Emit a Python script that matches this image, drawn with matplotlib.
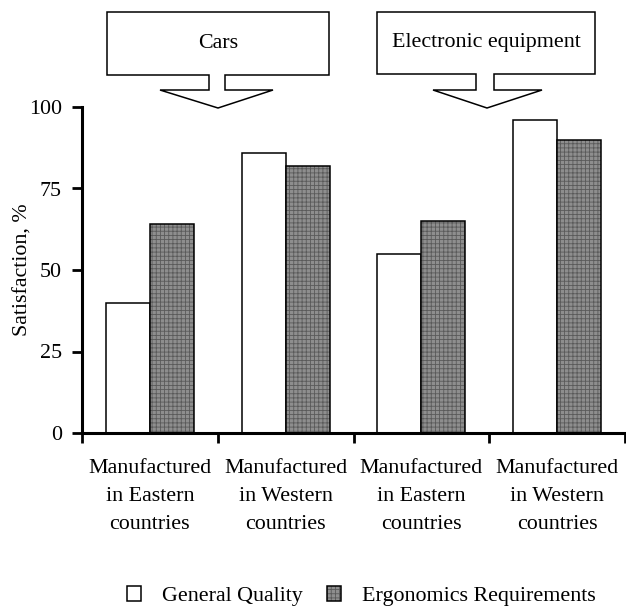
import matplotlib
matplotlib.use("Agg")
import matplotlib.pyplot as plt
from matplotlib.patches import Polygon, Rectangle
from matplotlib.legend_handler import HandlerTuple
import numpy as np

plt.rcParams['font.family'] = ['Liberation Serif', 'DejaVu Serif']
plt.rcParams['hatch.linewidth'] = 0.6

categories = ["Manufactured\nin Eastern\ncountries", "Manufactured\nin Western\ncountries",
              "Manufactured\nin Eastern\ncountries", "Manufactured\nin Western\ncountries"]
general_quality = [40, 86, 55, 96]
ergonomics = [64, 82, 65, 90]
group_titles = ["Cars", "Electronic equipment"]
series_names = ["General Quality", "Ergonomics Requirements"]
yticks = [0, 25, 50, 75, 100]

W, H = 626, 608
fig = plt.figure(figsize=(W / 100, H / 100), dpi=100)
ax = fig.add_axes([82 / W, 1 - 433 / H, (625 - 82) / W, (433 - 107) / H])

x = np.arange(len(categories))
bw = 0.324
fs = 15.8
gray_face = '#8e8e8e'
gray_hatch = '#5a5a5a'

ax.bar(x - bw / 2, general_quality, bw, color='white', edgecolor='black', linewidth=1.1,
       zorder=2)
ax.bar(x + bw / 2, ergonomics, bw, color=gray_face, edgecolor=gray_hatch, linewidth=0,
       hatch='++++', zorder=2)
ax.bar(x + bw / 2, ergonomics, bw, fill=False, edgecolor='black', linewidth=1.1, zorder=3)

ax.set_xlim(-0.5, len(categories) - 0.5)
ax.set_ylim(0, 100)
ax.set_yticks(yticks)
ax.set_xticks(x)
ax.set_xticklabels(categories, fontsize=fs, linespacing=1.62)
ax.set_xticks(np.arange(-0.5, len(categories)), minor=True)
ax.tick_params(axis='x', which='major', length=0, pad=19)
ax.tick_params(axis='x', which='minor', length=7, width=2, direction='out')
ax.tick_params(axis='y', length=7, width=2, direction='out', labelsize=fs, pad=7.5)
for s in ['top', 'right']:
    ax.spines[s].set_visible(False)
for s in ['left', 'bottom']:
    ax.spines[s].set_linewidth(2.2)
ax.set_ylabel("Satisfaction, %", fontsize=fs, labelpad=-3)

# Callout boxes with arrows
def callout(x0, x1, y0, y1, sx0, sx1, sy, hx0, hx1, tx, ty, text):
    pts = [(x0, y0), (x1, y0), (x1, y1), (sx1, y1), (sx1, sy), (hx1, sy), (tx, ty),
           (hx0, sy), (sx0, sy), (sx0, y1), (x0, y1)]
    pts = [(px / W, 1 - py / H) for px, py in pts]
    fig.patches.append(Polygon(pts, closed=True, facecolor='white', edgecolor='black',
                               linewidth=1.1, transform=fig.transFigure))
    fig.text((x0 + x1) / 2 / W, 1 - (y0 + y1) / 2 / H, text, ha='center', va='center',
             fontsize=fs)

callout(107, 329, 12, 75, 209, 225, 90, 160, 273, 218, 108, group_titles[0])
callout(377, 595, 12, 74, 476, 494, 90, 433, 542, 487, 108, group_titles[1])

h_white = Rectangle((0, 0), 1, 1, facecolor='white', edgecolor='black', linewidth=1.1)
h_gray_fill = Rectangle((0, 0), 1, 1, facecolor=gray_face, edgecolor=gray_hatch,
                        linewidth=0, hatch='++++')
h_gray_edge = Rectangle((0, 0), 1, 1, fill=False, edgecolor='black', linewidth=1.1)
fig.legend([h_white, (h_gray_fill, h_gray_edge)], series_names,
           handler_map={tuple: HandlerTuple(ndivide=1, pad=0)},
           loc='center left', bbox_to_anchor=(127 / W, 1 - 596 / H), ncol=2, frameon=False,
           fontsize=fs, handlelength=0.65, handleheight=0.65, handletextpad=0.95,
           columnspacing=1.1, borderpad=0, borderaxespad=0)

fig.savefig("out.png", dpi=100)
